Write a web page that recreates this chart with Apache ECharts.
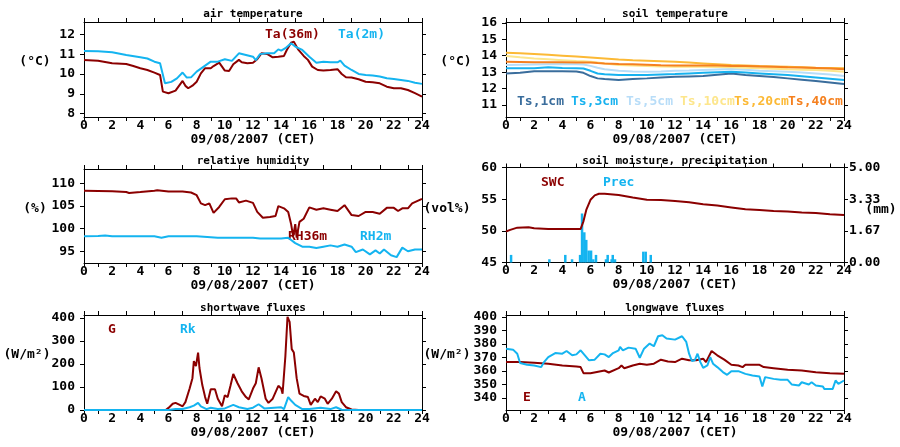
<!DOCTYPE html>
<html><head><meta charset="utf-8">
<script src="https://cdn.jsdelivr.net/npm/echarts@6/dist/echarts.min.js"></script>
<style>html,body{margin:0;padding:0;background:#fff}#c{width:900px;height:447px}</style>
</head><body><div id="c"></div>
<script>
// ---------- data ----------
const hourTicks = [0,1,3,5,7,9,11,13,15,17,19,21,23,24];
const hourLabels = [0,2,4,6,8,10,12,14,16,18,20,22,24];

// air temperature
const ta36H = [0,1,2,3,3.5,4,4.5,5,5.4,5.6,6,6.5,7,7.2,7.4,7.7,8,8.3,8.6,9,9.2,9.6,9.8,10,10.3,10.6,11,11.2,11.6,12,12.3,12.6,13,13.4,13.8,14.2,14.4,14.7,14.9,15.2,15.6,15.9,16.2,16.6,17,17.5,18,18.3,18.6,19,19.5,20,20.5,21,21.5,22,22.5,23,23.5,24];
const ta36 = [10.71,10.67,10.54,10.5,10.4,10.29,10.2,10.07,9.95,9.11,9.03,9.16,9.65,9.4,9.28,9.41,9.61,10.03,10.29,10.29,10.4,10.57,10.37,10.17,10.15,10.49,10.71,10.59,10.54,10.57,10.74,11.04,11.01,10.84,10.87,10.91,11.21,11.58,11.63,11.24,10.91,10.71,10.37,10.2,10.17,10.2,10.24,10.0,9.83,9.82,9.73,9.61,9.58,9.53,9.36,9.28,9.28,9.19,9.03,8.86];
const ta2H = [0,1,2,3,4,4.5,5,5.4,5.75,6.2,6.6,7,7.3,7.6,8,8.5,9,9.5,10,10.5,11,11.5,12,12.2,12.5,13,13.5,13.8,14,14.3,14.7,15,15.5,16,16.5,17,17.5,18,18.2,18.5,19,19.5,20,20.5,21,21.5,22,22.5,23,23.5,24];
const ta2 = [11.16,11.14,11.09,10.96,10.84,10.78,10.62,10.54,9.53,9.6,9.78,10.07,9.82,9.83,10.12,10.37,10.62,10.62,10.74,10.66,11.04,10.96,10.87,10.7,11.0,11.04,11.04,11.24,11.18,11.3,11.55,11.38,11.21,10.87,10.57,10.62,10.59,10.59,10.67,10.42,10.2,10.0,9.95,9.92,9.87,9.78,9.75,9.7,9.65,9.56,9.5];

// soil temperature
const tsH = [0,1,2,3,4,5,5.5,6,6.5,7,8,9,10,11,12,13,14,15,16,17,18,19,20,21,22,23,24];
const ts1 = [12.92,12.96,13.06,13.06,13.06,13.04,12.96,12.76,12.62,12.58,12.52,12.58,12.62,12.67,12.72,12.74,12.76,12.84,12.92,12.82,12.76,12.7,12.62,12.54,12.46,12.37,12.28];
const ts3 = [13.23,13.23,13.23,13.29,13.25,13.23,13.22,13.08,12.92,12.87,12.82,12.82,12.82,12.85,12.88,12.92,12.96,13.0,13.02,12.97,12.92,12.87,12.82,12.75,12.68,12.6,12.52];
const ts5 = [13.43,13.45,13.47,13.48,13.49,13.48,13.47,13.38,13.27,13.18,13.08,13.04,13.02,13.04,13.08,13.1,13.13,13.16,13.19,13.14,13.08,13.05,13.02,12.97,12.92,12.85,12.76];
const ts10 = [13.98,13.9,13.83,13.78,13.73,13.68,13.66,13.63,13.58,13.52,13.43,13.4,13.37,13.35,13.33,13.33,13.33,13.31,13.29,13.26,13.23,13.2,13.17,13.15,13.13,13.08,13.02];
const ts20 = [14.18,14.15,14.1,14.05,14.0,13.95,13.92,13.89,13.86,13.83,13.77,13.72,13.69,13.66,13.63,13.58,13.53,13.48,13.43,13.4,13.37,13.35,13.33,13.3,13.27,13.25,13.23];
const ts40 = [13.63,13.62,13.6,13.6,13.6,13.59,13.59,13.58,13.55,13.53,13.5,13.48,13.45,13.42,13.4,13.4,13.4,13.4,13.38,13.37,13.35,13.33,13.3,13.28,13.25,13.22,13.18];

// relative humidity
const rh36H = [0,2,3,3.2,4,5,5.2,6,7,7.6,8,8.3,8.6,8.9,9.2,9.6,10,10.5,10.8,11,11.5,12,12.3,12.7,13.2,13.6,13.8,14.2,14.5,14.7,14.85,15.0,15.1,15.3,15.6,16,16.5,17,17.5,18,18.5,19,19.5,20,20.5,21,21.5,22,22.3,22.6,23,23.3,24];
const rh36 = [108.4,108.3,108.1,107.9,108.1,108.4,108.5,108.2,108.2,108.0,107.4,105.6,105.2,105.6,103.5,104.8,106.5,106.7,106.7,105.8,106.2,105.7,103.7,102.4,102.6,102.8,105.0,104.5,103.7,101.1,98.3,101.0,98.0,101.5,102.2,104.7,104.2,104.5,104.2,103.9,105.2,103.0,102.8,103.7,103.7,103.3,104.6,104.6,103.9,104.5,104.5,105.6,106.6];
const rh2H = [0,1,1.5,2,5,5.5,6,8,9.5,12,12.5,14,14.5,15,15.5,16,16.5,17,17.5,18,18.5,19,19.3,19.8,20.3,20.7,21,21.3,21.8,22.2,22.6,23,23.5,24];
const rh2 = [98.3,98.4,98.5,98.3,98.3,98.0,98.3,98.3,98.0,98.0,97.8,97.8,98.0,96.8,96.0,96.0,95.7,96.0,96.3,96.0,96.5,96.0,94.8,95.4,94.3,95.2,94.5,95.4,94.1,93.7,95.8,95.0,95.4,95.4];

// soil moisture, precipitation
const swcH = [0,0.3,0.8,1.6,2,3,4,5.3,5.5,5.7,6.0,6.3,6.6,7,8,9,10,11,12,13,14,15,16,17,18,19,20,21,22,23,24];
const swc = [49.9,50.15,50.5,50.55,50.4,50.3,50.3,50.3,51.5,53.3,54.9,55.6,55.85,55.85,55.65,55.25,54.9,54.85,54.7,54.5,54.2,54.0,53.7,53.4,53.3,53.15,53.05,52.9,52.8,52.6,52.5];
const precH = [0.36,3.08,4.21,4.69,5.26,5.40,5.56,5.70,5.87,6.04,6.2,6.39,7.1,7.22,7.5,7.58,7.74,9.75,9.92,10.28];
const prec = [0.40,0.17,0.40,0.17,0.40,2.58,1.59,1.19,0.63,0.63,0.17,0.40,0.17,0.40,0.17,0.40,0.17,0.57,0.57,0.40];

// shortwave fluxes
const gH = [0,5.8,6,6.3,6.5,6.8,7,7.2,7.5,7.7,7.8,7.95,8.1,8.2,8.4,8.6,8.75,9,9.3,9.5,9.8,10,10.2,10.4,10.6,10.9,11.2,11.5,11.7,12,12.2,12.4,12.6,12.9,13.1,13.4,13.8,14,14.1,14.3,14.45,14.6,14.75,14.9,15.1,15.3,15.6,15.9,16.1,16.4,16.6,16.8,17.1,17.3,17.6,17.9,18.1,18.3,18.6,19,19.5,24];
const g = [0,0,9,27,31,22,16,34,93,138,212,190,249,182,108,56,27,90,90,49,16,64,56,105,156,116,81,56,46,93,116,185,138,49,31,49,105,93,71,234,404,382,264,249,138,71,61,56,22,49,34,59,49,27,49,81,71,34,12,2,0,0];
const rkH = [0,6,6.5,7,7.5,7.8,8.1,8.3,8.7,9,9.5,10,10.6,11,11.6,12,12.4,12.8,13.5,14,14.2,14.5,14.7,15,15.5,16,16.8,17.5,17.9,18.3,19,24];
const rk = [0,0,4,4,12,19,31,16,4,10,4,7,22,12,4,10,25,7,10,12,4,56,41,22,4,4,10,4,12,1,0,0];

// longwave fluxes
const eH = [0,1,2,3,4,5,5.3,5.5,6,7,7.3,8,8.2,8.4,9,9.5,10,10.5,11,11.5,12,12.5,13,13.5,14,14.2,14.6,15,15.5,16,16.5,16.8,17,18,18.3,19,20,21,22,23,24];
const e = [366.5,366.5,366,365.3,364,363.3,362.8,358.3,358.3,360.3,358.8,362,364,362,364,365.3,364.5,365.3,368.3,367,366.5,369,367.8,367.8,369,366.5,374.7,371.5,368.3,364.5,364,362.8,364.5,364.5,362.8,362,360.8,360.3,359,358.3,357.8];
const aH = [0,0.5,0.8,1,1.5,2,2.5,2.7,3,3.5,4,4.3,4.7,5,5.3,5.6,5.9,6.3,6.7,7,7.3,7.6,8,8.1,8.3,8.7,9.2,9.5,9.8,10.2,10.5,10.8,11.1,11.4,12,12.5,12.8,13,13.2,13.4,13.6,13.8,14,14.3,14.5,14.7,15,15.4,15.7,16,16.5,17,17.5,18,18.2,18.4,19,19.5,20,20.3,20.8,21,21.5,21.7,22,22.5,22.6,23.2,23.4,23.6,24];
const a = [376.4,375.7,372.7,365.8,364.5,364,362.8,366.5,370.2,373.2,372.7,374.7,371.5,372.2,375.2,371.5,367.8,368.3,372.7,372.2,370.2,373.2,375.2,377.7,375.2,377.2,376.4,369.7,376.4,380.2,378.2,385.6,386.4,383.9,383.1,385.6,381.4,372.7,367.3,367.8,372.7,366.5,362.3,364,370.2,365.3,362.8,359.1,357.1,359.8,359.8,357.8,356.6,355.9,348.4,355.4,354.1,353.4,353.4,349.9,349.2,351.6,349.9,351.6,349.2,348.4,346.7,346.7,352.9,350.4,352.9];

// y axis tick labels
const yTicks1 = [8,9,10,11,12];
const yTicks2 = [11,12,13,14,15,16];
const yTicks3 = [95,100,105,110];
const yTicks4 = [45,50,55,60];
const yTicks4r = [0,5/3,10/3,5];
const yTicks5 = [0,100,200,300,400];
const yTicks6 = [340,350,360,370,380,390,400];

// ---------- chart ----------
const RED = '#8b0000', BLUE = '#14b4f0';
const FF = "'DejaVu Sans Mono', monospace";
const pair = (h, v) => h.map((x, i) => [x, v[i]]);

const grids = [
  {left: 84, top: 22, width: 338, height: 95},
  {left: 506, top: 22, width: 338, height: 95},
  {left: 84, top: 169, width: 338, height: 94},
  {left: 506, top: 167.5, width: 338, height: 95},
  {left: 84, top: 315, width: 338, height: 95},
  {left: 506, top: 315, width: 338, height: 95}
];
const yr = [
  {min: 7.83, max: 12.62, t: yTicks1},
  {min: 10.27, max: 16.05, t: yTicks2},
  {min: 92.4, max: 113.2, t: yTicks3},
  {min: 45, max: 60, t: yTicks4},
  {min: 0, max: 412, t: yTicks5},
  {min: 331.1, max: 401.3, t: yTicks6}
];
const lineAx = {show: true, onZero: false, lineStyle: {color: '#000', width: 1}};
const txt = {color: '#000', fontFamily: FF, fontWeight: 'bold', fontSize: 13};
const xAxis = [], yAxis = [];
grids.forEach((gd, i) => {
  xAxis.push({gridIndex: i, type: 'value', min: 0, max: 24, position: 'bottom',
    axisLine: lineAx, splitLine: {show: false},
    axisTick: {show: true, inside: false, length: 4, customValues: hourTicks, lineStyle: {color: '#000'}},
    axisLabel: Object.assign({customValues: hourLabels, margin: 2}, txt),
    name: '09/08/2007 (CET)', nameLocation: 'middle', nameGap: 13, nameTextStyle: txt});
  xAxis.push({gridIndex: i, type: 'value', min: 0, max: 24, position: 'top',
    axisLine: lineAx, splitLine: {show: false},
    axisTick: {show: true, inside: false, length: 4, customValues: hourTicks, lineStyle: {color: '#000'}},
    axisLabel: {show: false}});
  yAxis.push({gridIndex: i, type: 'value', min: yr[i].min, max: yr[i].max, position: 'left',
    axisLine: lineAx, splitLine: {show: false},
    axisTick: {show: true, inside: false, length: 4, customValues: yr[i].t, lineStyle: {color: '#000'}},
    axisLabel: Object.assign({customValues: yr[i].t, margin: 9}, txt)});
  if (i === 3) {
    yAxis.push({gridIndex: i, type: 'value', min: 0, max: 5, position: 'right',
      axisLine: lineAx, splitLine: {show: false},
      axisTick: {show: true, inside: false, length: 4, customValues: yTicks4r, lineStyle: {color: '#000'}},
      axisLabel: Object.assign({customValues: yTicks4r, margin: 5, formatter: v => v.toFixed(2)}, txt)});
  } else {
    yAxis.push({gridIndex: i, type: 'value', min: yr[i].min, max: yr[i].max, position: 'right',
      axisLine: lineAx, splitLine: {show: false},
      axisTick: {show: true, inside: false, length: 4, customValues: yr[i].t, lineStyle: {color: '#000'}},
      axisLabel: {show: false}});
  }
});

function ln(p, h, v, color, yIdx) {
  return {type: 'line', xAxisIndex: 2 * p, yAxisIndex: yIdx === undefined ? 2 * p : yIdx,
    data: pair(h, v), showSymbol: false, symbol: 'none',
    lineStyle: {color: color, width: 2}, itemStyle: {color: color}};
}
const series = [
  ln(0, ta36H, ta36, RED), ln(0, ta2H, ta2, BLUE),
  ln(1, tsH, ts1, '#3a6d9c'), ln(1, tsH, ts3, '#18b2ef'), ln(1, tsH, ts5, '#b8ddf8'),
  ln(1, tsH, ts10, '#fde68c'), ln(1, tsH, ts20, '#fcb935'), ln(1, tsH, ts40, '#f5801f'),
  ln(2, rh36H, rh36, RED), ln(2, rh2H, rh2, BLUE),
  {type: 'bar', xAxisIndex: 6, yAxisIndex: 7, data: pair(precH, prec), barWidth: 2.5,
    itemStyle: {color: BLUE}},
  ln(3, swcH, swc, RED),
  ln(4, gH, g, RED), ln(4, rkH, rk, BLUE),
  ln(5, eH, e, RED), ln(5, aH, a, BLUE)
];

function T(text, x, y, color, align, size) {
  return {type: 'text', x: x, y: y, silent: true,
    style: {text: text, fill: color || '#000', align: align || 'left', verticalAlign: 'middle',
      font: 'bold ' + (size || 13) + "px 'DejaVu Sans Mono', monospace"}};
}
const graphic = [
  T('air temperature', 253, 14, '#000', 'center', 11),
  T('soil temperature', 675, 14, '#000', 'center', 11),
  T('relative humidity', 253, 161, '#000', 'center', 11),
  T('soil moisture, precipitation', 675, 161, '#000', 'center', 11),
  T('shortwave fluxes', 253, 308, '#000', 'center', 11),
  T('longwave fluxes', 675, 308, '#000', 'center', 11),
  T('(°C)', 35, 62, '#000', 'center'),
  T('(°C)', 456, 62, '#000', 'center'),
  T('(%)', 35, 209, '#000', 'center'),
  T('(vol%)', 447, 209, '#000', 'center'),
  T('(mm)', 881, 210, '#000', 'center'),
  T('(W/m²)', 27, 355, '#000', 'center'),
  T('(W/m²)', 447, 355, '#000', 'center'),
  T('Ta(36m)', 265, 35, RED), T('Ta(2m)', 338, 35, BLUE),
  T('Ts,1cm', 517, 102, '#3a6d9c'), T('Ts,3cm', 571, 102, '#18b2ef'),
  T('Ts,5cm', 626, 102, '#b8ddf8'), T('Ts,10cm', 680, 102, '#fde68c'),
  T('Ts,20cm', 734, 102, '#fcb935'), T('Ts,40cm', 788, 102, '#f5801f'),
  T('RH36m', 288, 237, RED), T('RH2m', 360, 237, BLUE),
  T('SWC', 541, 183, RED), T('Prec', 603, 183, BLUE),
  T('G', 108, 330, RED), T('Rk', 180, 330, BLUE),
  T('E', 523, 398, RED), T('A', 578, 398, BLUE)
];

const chart = echarts.init(document.getElementById('c'), null, {renderer: 'canvas'});
chart.setOption({animation: false, backgroundColor: '#fff', grid: grids, xAxis: xAxis, yAxis: yAxis,
  series: series, graphic: graphic});
</script></body></html>
